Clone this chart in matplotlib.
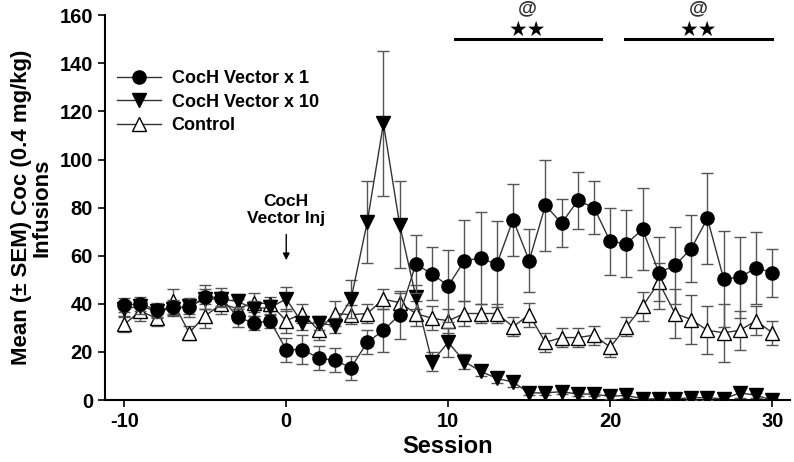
import matplotlib
matplotlib.use("Agg")
import matplotlib.pyplot as plt
from matplotlib.lines import Line2D
import numpy as np

plt.rcParams['font.family'] = ['Liberation Sans', 'DejaVu Sans']
plt.rcParams['font.weight'] = 'bold'
plt.rcParams['axes.unicode_minus'] = False

sessions = list(range(-10, 31))

# CocH Vector x 1
x1_mean = [39.5, 40, 37.5, 38.5, 38.5, 43, 42.5, 34.5, 32, 33,
           21, 21, 17.5, 16.5, 13.5, 24, 29, 35.5, 56.5, 52.5,
           47.5, 58, 59, 56.5, 75, 58, 81, 73.5, 83, 80,
           66, 65, 71, 53, 56, 63, 75.5, 50.5, 51, 55, 53]
x1_sem = [3, 3, 3, 3, 4, 5, 4, 4, 3, 3,
          5, 6, 5, 5, 5, 5, 9, 10, 12, 11,
          15, 17, 19, 18, 15, 13, 19, 10, 12, 11,
          14, 14, 17, 15, 16, 14, 19, 20, 17, 15, 10]

# CocH Vector x 10
x10_mean = [38, 39, 37, 38, 39, 42, 42, 41, 38, 38.5,
            42, 32, 32, 31, 42, 74, 115, 73, 43, 16,
            24, 16, 12, 9, 7.5, 3, 3, 3.5, 2.5, 2.5,
            1.5, 2, 0.5, 0.5, 0.5, 1, 1, 0.5, 3, 2, 0]
x10_sem = [3, 3, 3, 3, 3, 4, 3, 3, 3, 3,
           5, 3, 3, 3, 8, 17, 30, 18, 5, 4,
           6, 3, 2, 2, 2, 1, 1, 1, 1, 1,
           1, 1, 1, 1, 1, 1, 1, 1, 2, 1, 1]

# Control
ctrl_mean = [31.5, 37, 34, 41, 28, 35, 40, 38, 40.5, 40,
             33, 36, 29, 36, 35.5, 36, 42, 40.5, 36, 34,
             33, 36, 36, 36, 30.5, 35.5, 24, 26, 26, 27,
             22, 30.5, 39, 49, 36, 33.5, 29, 28, 29, 33, 28]
ctrl_sem = [3, 4, 3, 5, 3, 5, 4, 4, 4, 3,
            5, 4, 4, 5, 4, 4, 4, 4, 5, 5,
            5, 5, 4, 4, 4, 5, 4, 4, 4, 4,
            4, 4, 6, 8, 10, 10, 10, 12, 8, 6, 5]

fig = plt.figure(figsize=(7.94, 4.62), dpi=100)
ax = fig.add_axes([0.132, 0.134, 0.863, 0.833])

eb = dict(ecolor='#555555', elinewidth=1, capsize=4, capthick=1,
          color='#333333', linewidth=1, markersize=9.5, markeredgecolor='black')
ax.errorbar(sessions, ctrl_mean, yerr=ctrl_sem, fmt='-^', markerfacecolor='white',
            zorder=2, **eb)
ax.errorbar(sessions, x10_mean, yerr=x10_sem, fmt='-v', markerfacecolor='black',
            zorder=3, **eb)
ax.errorbar(sessions, x1_mean, yerr=x1_sem, fmt='-o', markerfacecolor='black',
            zorder=4, **eb)

ax.set_xlim(-11.2, 31.1)
ax.set_ylim(0, 160)
ax.set_xticks([-10, 0, 10, 20, 30])
ax.set_yticks(range(0, 161, 20))
ax.spines['top'].set_visible(False)
ax.spines['right'].set_visible(False)
ax.spines['left'].set_linewidth(1.5)
ax.spines['bottom'].set_linewidth(1.5)
ax.tick_params(direction='out', length=5, width=1.2, labelsize=14.5)
for lab in ax.get_xticklabels() + ax.get_yticklabels():
    lab.set_fontweight('bold')

ax.set_xlabel('Session', fontsize=17, fontweight='bold', labelpad=3)
ax.set_ylabel('Mean (\u00b1 SEM) Coc (0.4 mg/kg)\nInfusions', fontsize=16,
              fontweight='bold', linespacing=0.95, labelpad=5)

legend_handles = [
    Line2D([], [], color='#333333', lw=1, marker='o', markersize=9.5,
           markerfacecolor='black', markeredgecolor='black'),
    Line2D([], [], color='#333333', lw=1, marker='v', markersize=9.5,
           markerfacecolor='black', markeredgecolor='black'),
    Line2D([], [], color='#333333', lw=1, marker='^', markersize=9.5,
           markerfacecolor='white', markeredgecolor='black'),
]
ax.legend(legend_handles, ['CocH Vector x 1', 'CocH Vector x 10', 'Control'],
          loc='upper left', bbox_to_anchor=(0.0, 0.89), frameon=False,
          prop={'weight': 'bold', 'size': 13}, handlelength=2.4,
          handletextpad=0.6, labelspacing=0.35, borderaxespad=0.3)

# injection marker
ax.annotate('', xy=(0, 57), xytext=(0, 70),
            arrowprops=dict(arrowstyle='-|>', color='black', lw=1, mutation_scale=10))
ax.text(0, 79, 'CocH\nVector Inj', ha='center', va='center', fontsize=12.5,
        fontweight='bold', linespacing=1.15)

# significance bars
for x0, x1 in [(10.4, 19.4), (20.9, 30.0)]:
    ax.plot([x0, x1], [150, 150], color='black', lw=2.2, clip_on=False)
    xm = (x0 + x1) / 2
    ax.text(xm, 154, '\u2605\u2605', ha='center', va='center', fontsize=15,
            family='DejaVu Sans', clip_on=False)
    ax.text(xm, 162.5, '@', ha='center', va='center', fontsize=14,
            fontweight='bold', color='#333333', clip_on=False)

fig.savefig('out.png', dpi=100)
